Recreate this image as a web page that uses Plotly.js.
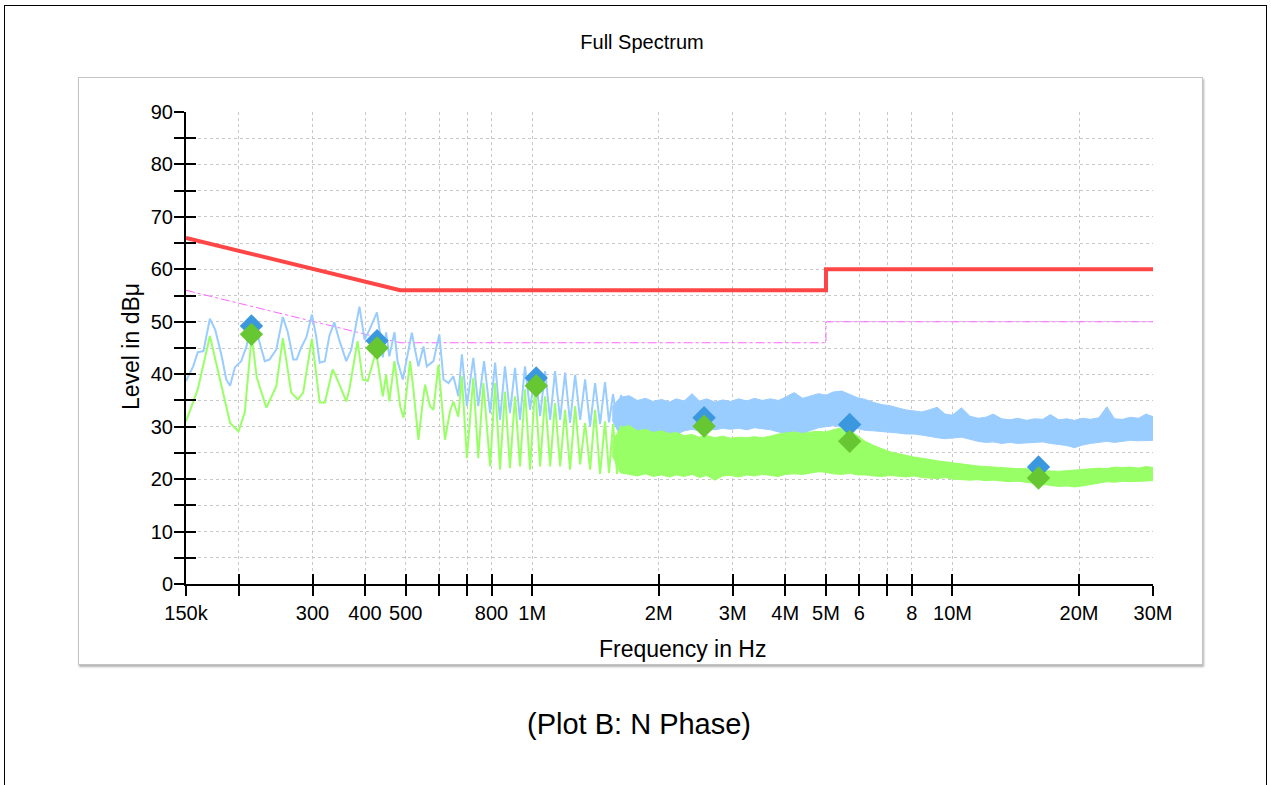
<!DOCTYPE html>
<html><head><meta charset="utf-8">
<script src="https://cdn.plot.ly/plotly-3.0.1.min.js"></script>
<style>
html,body{margin:0;padding:0;background:#fff;width:1271px;height:785px;overflow:hidden;}
#frame{position:absolute;left:4px;top:5px;width:1261px;height:800px;border:1px solid #000;border-bottom:none;}
#panel{position:absolute;left:78px;top:77px;width:1123px;height:586px;border:1px solid #c4c4c4;box-shadow:1px 2px 2px rgba(0,0,0,0.3);}
#chart{position:absolute;left:0;top:0;width:1271px;height:785px;}
</style></head><body>
<div id="frame"></div><div id="panel"></div><div id="chart"></div>
<script>
// ---- Data ----
const xTickVals = [150e3,200e3,300e3,400e3,500e3,600e3,700e3,800e3,1e6,2e6,3e6,4e6,5e6,6e6,7e6,8e6,10e6,20e6,30e6];
const xTickText = ['150k','','300','400','500','','','800','1M','2M','3M','4M','5M','6','','8','10M','20M','30M'];
const yTickVals = [0,10,20,30,40,50,60,70,80,90];
const yMinorVals = [5,15,25,35,45,55,65,75,85];

// Limit lines
const qpLimitF = [150e3, 485e3, 5e6, 5e6, 30e6];
const qpLimitLevel = [66, 56, 56, 60, 60];
const avLimitF = [150e3, 485e3, 5e6, 5e6, 30e6];
const avLimitLevel = [56, 46, 46, 50, 50];

// Peak (blue) trace, resolved part (kHz / dBuV)
const peakF_kHz = [150,156,160,165,171,176,182,187,191,196,203,209,215,221,231,237,246,255,262,270,275,282,290,299,306,312,321,329,338,348,361,371,388,399,410,427,433,441,449,457,470,478,492,517,526,536,551,561,582,601,615,632,649,667,680,699,724,744,768,794,816,838,861,885,910,935,961,988,1016,1044,1073,1103,1133,1165,1197,1230,1265,1300,1336,1373,1411,1450,1490,1523,1557,1592,1627,1663,1700];
const peakLevel = [38.7,41.5,44.2,44.4,50.6,48.5,43.8,39.0,37.8,41.3,42.5,45.3,50.4,48.0,42.5,42.8,44.7,50.9,48.0,42.8,42.8,45.1,47.0,51.4,47.3,42.2,42.5,47.3,49.9,46.3,42.5,44.7,52.9,46.6,48.5,51.8,48.5,43.2,48.0,43.4,48.0,42.5,39.0,47.9,44.7,41.5,45.3,41.5,42.5,47.6,39.0,38.3,39.6,35.8,43.8,33.9,43.1,33.9,42.5,32.6,42.2,31.3,41.5,32.6,41.2,31.3,41.5,33.2,40.6,32.0,40.6,31.3,40.6,31.3,40.3,30.7,39.9,31.3,39.0,30.1,38.3,30.5,38.5,30.8,36.2,30.6,36.0,30.2,35.6];

// Average (green) trace, resolved part
const avgF_kHz = [150,160,171,181,191,200,207,215,221,233,246,255,267,277,285,299,312,321,335,342,361,367,384,395,406,425,441,449,457,470,485,494,512,521,536,551,556,571,582,598,609,620,637,649,667,680,699,724,744,765,794,816,838,861,885,910,935,961,988,1016,1044,1073,1103,1133,1165,1197,1230,1265,1300,1336,1373,1411,1450,1490,1523,1557,1592,1627];
const avgLevel = [31.0,37.1,47.3,39.0,30.7,29.1,32.7,47.3,39.4,33.6,37.7,46.9,36.5,35.2,36.5,46.8,34.6,34.6,40.9,39.4,34.8,37.1,46.3,39.0,38.7,44.4,35.8,39.9,34.8,42.5,33.9,31.7,42.5,37.4,27.5,35.8,38.0,33.9,33.2,41.8,34.5,27.5,32.9,34.8,31.9,39.6,24.0,39.3,24.0,38.3,22.4,38.3,21.8,36.7,22.1,35.8,22.4,37.1,21.8,38.0,22.4,35.8,22.4,34.5,22.4,33.2,21.8,33.9,22.8,30.7,21.8,33.2,21.0,31.0,21.2,30.5,21.0,30.2];

// Dense part of the spectrum: envelopes (MHz / dBuV)
const bandF_MHz = [1.55,1.62,1.7,1.78,1.86,1.94,2.03,2.12,2.2,2.3,2.4,2.5,2.6,2.72,2.84,2.96,3.1,3.24,3.38,3.53,3.69,3.85,4.0,4.2,4.4,4.6,4.8,5.0,5.2,5.45,5.7,5.95,6.2,6.5,6.8,7.1,7.4,7.75,8.1,8.45,8.8,9.2,9.6,10.0,10.5,11.0,11.5,12.0,12.5,13.1,13.7,14.3,15.0,15.7,16.4,17.1,17.9,18.7,19.5,20.4,21.3,22.3,23.3,24.3,25.4,26.5,27.7,28.9,30.0];
const peakBandHigh = [33.8,35.6,35.9,35.0,35.4,34.8,35.2,34.7,35.3,34.9,36.3,34.9,35.3,34.7,35.1,34.8,35.3,34.9,35.4,35.0,35.3,35.0,35.6,36.5,35.4,35.8,36.3,36.0,36.6,36.8,36.2,35.5,35.2,34.6,34.2,34.0,33.6,33.2,33.0,32.8,33.2,33.7,32.4,32.2,33.6,32.0,31.6,31.8,32.4,31.5,31.3,31.6,31.2,31.5,31.4,32.3,31.3,31.5,31.2,31.6,31.4,31.7,33.8,31.5,31.4,31.8,31.6,32.4,31.9];
const peakBandLow = [31.2,28.3,28.7,28.4,28.8,28.2,28.6,27.6,28.5,29.2,29.5,29.2,29.6,29.4,29.7,29.5,29.7,29.4,29.8,29.6,29.4,29.0,28.8,29.0,28.7,29.3,29.8,30.0,30.2,30.0,29.9,29.6,29.3,29.2,29.1,29.0,28.8,28.6,28.6,28.4,28.1,27.9,27.7,27.8,28.0,27.6,27.2,27.0,27.1,26.8,27.0,26.8,26.9,27.0,27.1,26.8,26.6,26.4,26.0,26.5,26.8,27.0,27.2,27.0,27.2,27.4,27.3,27.4,27.4];
const avgBandHigh = [27.0,29.8,30.2,29.2,29.5,28.9,29.2,28.7,28.9,28.3,28.5,28.0,28.3,27.9,28.2,27.8,28.0,27.9,28.1,27.9,28.2,28.6,28.8,29.0,28.7,29.0,29.1,29.0,29.4,29.8,29.3,28.2,27.2,26.4,25.8,25.2,24.9,24.5,24.2,24.0,23.7,23.5,23.3,23.1,22.9,22.7,22.5,22.4,22.3,22.2,22.1,22.0,22.0,21.7,21.6,21.5,21.5,21.6,21.7,21.8,22.0,22.1,22.0,22.3,22.2,22.3,22.1,22.4,22.2];
const avgBandLow = [24.5,21.2,20.9,20.6,21.0,20.5,20.8,20.4,20.8,20.5,20.9,20.3,20.7,19.8,20.6,20.7,20.4,20.8,20.6,20.9,20.7,20.5,20.9,21.0,20.9,21.2,21.4,21.3,21.0,20.9,21.1,20.8,20.8,20.6,20.5,20.7,20.5,20.4,20.6,20.3,20.2,20.1,20.3,20.0,19.9,19.8,19.9,19.7,19.8,19.6,19.5,19.6,19.4,19.1,18.9,18.8,18.6,18.7,18.5,18.7,19.0,19.3,19.5,19.4,19.6,19.5,19.6,19.7,19.7];

// Final measurement points
const markF = [214.7e3, 427.3e3, 1.022e6, 2.564e6, 5.693e6, 16.02e6];
const peakMarkLevel = [49.2, 46.4, 39.3, 31.7, 30.4, 22.3];
const avgMarkLevel = [47.6, 45.0, 37.8, 30.1, 27.2, 20.2];

// ---- Styles ----
const FONT = '"Liberation Sans", Arial, Helvetica, sans-serif';
const BLUE = '#99ccff', GREEN = '#99ff66';
const xRange = [Math.log10(150e3), Math.log10(30e6)];
const kHz = a => a.map(v => v * 1e3);
const MHz = a => a.map(v => v * 1e6);

const traces = [
  {x: avLimitF, y: avLimitLevel, mode: 'lines', line: {color: '#ff66ff', width: 1, dash: 'dashdot'}, hoverinfo: 'skip'},
  {x: kHz(peakF_kHz), y: peakLevel, mode: 'lines', line: {color: BLUE, width: 2}},
  {x: MHz(bandF_MHz), y: peakBandLow, mode: 'lines', line: {color: BLUE, width: 1}},
  {x: MHz(bandF_MHz), y: peakBandHigh, mode: 'lines', line: {color: BLUE, width: 1}, fill: 'tonexty', fillcolor: BLUE},
  {x: kHz(avgF_kHz), y: avgLevel, mode: 'lines', line: {color: GREEN, width: 2}},
  {x: MHz(bandF_MHz), y: avgBandLow, mode: 'lines', line: {color: GREEN, width: 1}},
  {x: MHz(bandF_MHz), y: avgBandHigh, mode: 'lines', line: {color: GREEN, width: 1}, fill: 'tonexty', fillcolor: GREEN},
  {x: qpLimitF, y: qpLimitLevel, mode: 'lines', line: {color: '#ff4646', width: 4}},
  {x: markF, y: peakMarkLevel, mode: 'markers', marker: {symbol: 'diamond', size: 18, color: '#3b97de'}},
  {x: markF, y: avgMarkLevel, mode: 'markers', marker: {symbol: 'diamond', size: 18, color: '#66c733'}},
  {x: [1e6], y: [-50], mode: 'markers', xaxis: 'x2', yaxis: 'y2', marker: {size: 1, color: 'rgba(0,0,0,0)'}, hoverinfo: 'skip'}
];

const grid = {gridcolor: '#c8c8c8', griddash: '3px,3px', gridwidth: 1};
const layout = {
  width: 1271, height: 785,
  margin: {l: 186, r: 118, t: 112, b: 201, pad: 0},
  paper_bgcolor: 'rgba(0,0,0,0)', plot_bgcolor: 'rgba(0,0,0,0)',
  showlegend: false,
  font: {family: FONT, color: '#000'},
  title: {text: 'Full Spectrum', x: 642 / 1271, xanchor: 'center', xref: 'container', y: 1 - 42 / 785, yanchor: 'middle', yref: 'container', font: {size: 20, family: FONT}},
  xaxis: Object.assign({type: 'log', range: xRange, tickmode: 'array', tickvals: xTickVals, ticktext: xTickText,
    ticks: 'outside', ticklen: 10, tickwidth: 2, tickcolor: '#000', showline: true, linecolor: '#000', linewidth: 2,
    showgrid: true, zeroline: false, tickfont: {size: 20}}, grid),
  yaxis: Object.assign({range: [0, 90], tickmode: 'array', tickvals: yTickVals, ticks: 'outside', ticklen: 10, tickwidth: 2,
    tickcolor: '#000', showline: true, linecolor: '#000', linewidth: 2, showgrid: true, zeroline: false, tickfont: {size: 20},
    ticklabelstandoff: -3,
    minor: Object.assign({tickvals: yMinorVals, ticks: 'outside', ticklen: 10, tickwidth: 2, tickcolor: '#000', showgrid: true}, grid)}, grid),
  xaxis2: {overlaying: 'x', anchor: 'y', type: 'log', range: xRange, tickmode: 'array', tickvals: xTickVals, ticks: 'inside', ticklen: 10,
    tickwidth: 2, tickcolor: '#000', showticklabels: false, showgrid: false, showline: false, zeroline: false},
  yaxis2: {overlaying: 'y', anchor: 'x', range: [0, 90], tickmode: 'array', tickvals: yTickVals, ticks: 'inside', ticklen: 10,
    tickwidth: 2, tickcolor: '#000', showticklabels: false, showgrid: false, showline: false, zeroline: false,
    minor: {tickvals: yMinorVals, ticks: 'inside', ticklen: 10, tickwidth: 2, tickcolor: '#000', showgrid: false}},
  annotations: [
    {text: 'Frequency in Hz', xref: 'paper', yref: 'paper', x: (682 - 186) / 967, y: (584 - 649) / 472, xanchor: 'center', yanchor: 'middle', showarrow: false, font: {size: 23}},
    {text: 'Level in dBμ', xref: 'paper', yref: 'paper', x: (131 - 186) / 967, y: (584 - 347) / 472, xanchor: 'center', yanchor: 'middle', textangle: -90, showarrow: false, font: {size: 23}},
    {text: '(Plot B: N Phase)', xref: 'paper', yref: 'paper', x: (639 - 186) / 967, y: (584 - 724) / 472, xanchor: 'center', yanchor: 'middle', showarrow: false, font: {size: 29}}
  ]
};
Plotly.newPlot('chart', traces, layout, {displayModeBar: false, staticPlot: true});
</script></body></html>
